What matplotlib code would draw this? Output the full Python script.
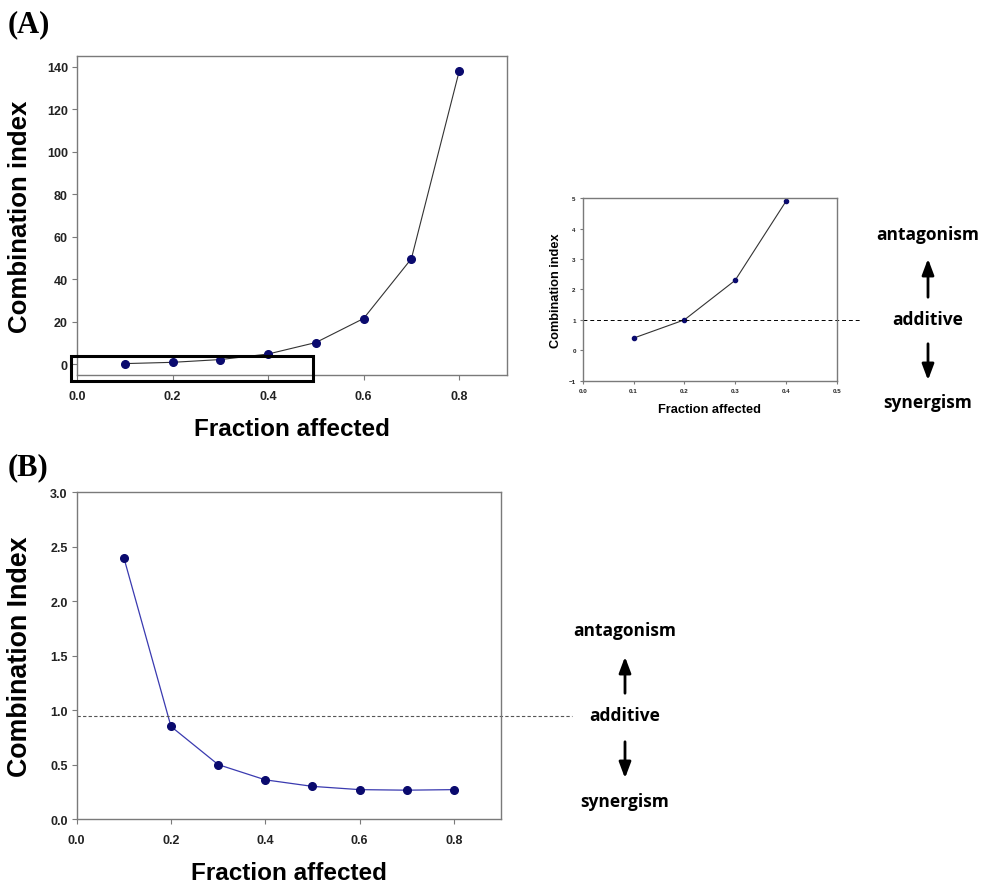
import numpy as np
import matplotlib.pyplot as plt
from matplotlib.patches import Rectangle, FancyArrowPatch

# data
fa = [0.1, 0.2, 0.3, 0.4, 0.5, 0.6, 0.7, 0.8]
ci_a = [0.4, 1.0, 2.3, 4.9, 10.3, 21.6, 49.7, 137.8]
fa_zoom = [0.1, 0.2, 0.3, 0.4]
ci_zoom = [0.4, 1.0, 2.3, 4.9]
ci_b = [2.40, 0.85, 0.50, 0.36, 0.30, 0.27, 0.265, 0.27]

x_ticks = [0.0, 0.2, 0.4, 0.6, 0.8]
ya_ticks = [0, 20, 40, 60, 80, 100, 120, 140]
yb_ticks = [0.0, 0.5, 1.0, 1.5, 2.0, 2.5, 3.0]
zoom_xticks = [0.0, 0.1, 0.2, 0.3, 0.4, 0.5]
zoom_yticks = [-1, 0, 1, 2, 3, 4, 5]

additive_a = 1.0
additive_b = 0.95
box_x = (-0.012, 0.495)
box_y = (-8.0, 4.0)

sans = ['Liberation Sans', 'DejaVu Sans']
spine_col = '#7a7a7a'


def style_axes(ax, tick_size, xpad, ypad, length=3.5):
    for s in ax.spines.values():
        s.set_color(spine_col)
        s.set_linewidth(1.0)
    ax.tick_params(direction='out', length=length, width=0.8, color=spine_col,
                   labelsize=tick_size)
    ax.tick_params(axis='x', pad=xpad)
    ax.tick_params(axis='y', pad=ypad)
    for lab in ax.get_xticklabels() + ax.get_yticklabels():
        lab.set_fontweight('bold')
        lab.set_family(sans)
        lab.set_color('#222222')


fig = plt.figure(figsize=(9.86, 8.87), dpi=100)

# ---- (A) main
ax1 = fig.add_axes([0.0781, 0.576, 0.436, 0.3597])
ax1.plot(fa, ci_a, color='#333333', lw=0.8, marker='o', ms=5.5,
         mfc='#0a0a6e', mec='#0a0a6e')
ax1.set_xlim(0, 0.9)
ax1.set_ylim(-5, 145)
ax1.set_xticks(x_ticks)
ax1.set_xticklabels(['%.1f' % v for v in x_ticks])
ax1.set_yticks(ya_ticks)
style_axes(ax1, 9, xpad=7, ypad=3)
ax1.set_xlabel('Fraction affected', fontsize=17.5, fontweight='bold', family=sans)
ax1.set_ylabel('Combination index', fontsize=18.6, fontweight='bold', family=sans)
ax1.xaxis.set_label_coords(0.5, -0.132)
ax1.yaxis.set_label_coords(-0.105, 0.5)
ax1.add_patch(Rectangle((box_x[0], box_y[0]), box_x[1] - box_x[0],
                        box_y[1] - box_y[0], fill=False, ec='black',
                        lw=2.2, clip_on=False, zorder=5))

# ---- (A) inset zoom
ax2 = fig.add_axes([0.591, 0.5697, 0.2576, 0.2056])
ax2.plot(fa_zoom, ci_zoom, color='#333333', lw=0.8, marker='o', ms=3,
         mfc='#0a0a6e', mec='#0a0a6e')
ax2.set_xlim(0, 0.5)
ax2.set_ylim(-1, 5)
ax2.set_xticks(zoom_xticks)
ax2.set_xticklabels(['%.1f' % v for v in zoom_xticks])
ax2.set_yticks(zoom_yticks)
style_axes(ax2, 4.5, xpad=3, ypad=3, length=2)
ax2.set_xlabel('Fraction affected', fontsize=9.2, fontweight='bold', family=sans)
ax2.set_ylabel('Combination index', fontsize=9.2, fontweight='bold', family=sans)
ax2.xaxis.set_label_coords(0.5, -0.125)
ax2.yaxis.set_label_coords(-0.081, 0.5)
ax2.plot([0, 0.55], [additive_a, additive_a], color='black', lw=0.7,
         ls=(0, (4, 3)), clip_on=False)

# ---- (B)
ax3 = fig.add_axes([0.0778, 0.0755, 0.4303, 0.3683])
ax3.plot(fa, ci_b, color='#3a3ab0', lw=0.9, marker='o', ms=5.5,
         mfc='#0a0a6e', mec='#0a0a6e')
ax3.set_xlim(0, 0.9)
ax3.set_ylim(0, 3.0)
ax3.set_xticks(x_ticks)
ax3.set_xticklabels(['%.1f' % v for v in x_ticks])
ax3.set_yticks(yb_ticks)
ax3.set_yticklabels(['%.1f' % v for v in yb_ticks])
style_axes(ax3, 9, xpad=7, ypad=3)
ax3.set_xlabel('Fraction affected', fontsize=17.5, fontweight='bold', family=sans)
ax3.set_ylabel('Combination Index', fontsize=19.3, fontweight='bold', family=sans)
ax3.xaxis.set_label_coords(0.5, -0.129)
ax3.yaxis.set_label_coords(-0.104, 0.5)
ax3.plot([0, 1.05], [additive_b, additive_b], color='#555555', lw=0.8,
         ls=(0, (3, 2)), clip_on=False)

# ---- side annotations
ann_font = ['Open Sans', 'DejaVu Sans']


def side_labels(x, y_top, y_mid, y_bot, arr_up, arr_dn):
    for y, s in [(y_top, 'antagonism'), (y_mid, 'additive'), (y_bot, 'synergism')]:
        fig.text(x, y, s, fontsize=12.5, fontweight='bold', family=ann_font,
                 ha='center', va='center')
    for a in (arr_up, arr_dn):
        fig.add_artist(FancyArrowPatch(
            (x, a[0]), (x, a[1]), transform=fig.transFigure,
            arrowstyle='-|>,head_length=0.8,head_width=0.3',
            mutation_scale=12, lw=2, color='black'))


side_labels(928 / 986, 1 - 235 / 887, 1 - 320 / 887, 1 - 403 / 887,
            (1 - 301 / 887, 1 - 257 / 887), (1 - 342 / 887, 1 - 384 / 887))
side_labels(625 / 986, 1 - 631 / 887, 1 - 716 / 887, 1 - 802 / 887,
            (1 - 697 / 887, 1 - 655 / 887), (1 - 740 / 887, 1 - 782 / 887))

serif = ['Liberation Serif', 'DejaVu Serif']
fig.text(0.008, 1 - 25 / 887, '(A)', fontsize=22, fontweight='bold',
         family=serif, va='center')
fig.text(0.008, 1 - 468 / 887, '(B)', fontsize=22, fontweight='bold',
         family=serif, va='center')

fig.savefig('out.png', dpi=100)
